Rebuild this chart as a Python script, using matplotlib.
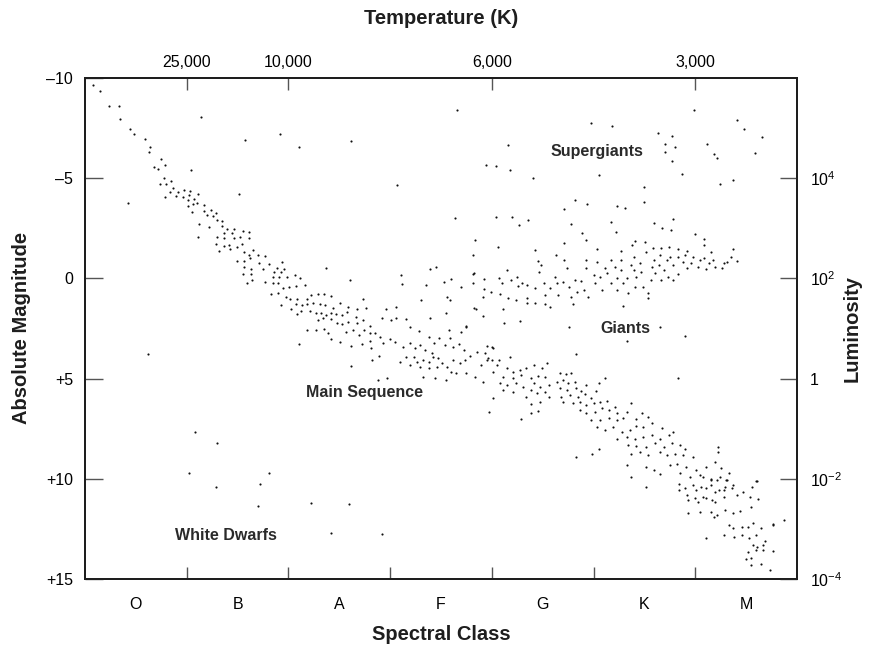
import matplotlib
matplotlib.use("Agg")
import matplotlib.pyplot as plt

plt.rcParams['font.family'] = ['Liberation Sans', 'DejaVu Sans']
plt.rcParams['mathtext.fontset'] = 'custom'
plt.rcParams['mathtext.rm'] = 'Liberation Sans'
plt.rcParams['mathtext.it'] = 'Liberation Sans'

# spectral class position (O centred at 0.5, boundaries at 1..6) and absolute magnitude
main_seq = [
    (0.08, -9.65), (0.15, -9.35), (0.24, -8.6), (0.33, -8.6), (0.34, -7.95), (0.44, -7.45), (0.48, -7.2),
    (0.59, -6.97), (0.64, -6.55), (0.63, -6.3), (0.75, -5.96), (0.68, -5.57), (0.72, -5.44), (0.79, -5.64),
    (0.78, -5.03), (0.85, -4.88), (0.74, -4.70), (0.80, -4.71), (0.87, -4.51), (0.84, -4.33), (0.91, -4.33),
    (0.97, -4.40), (1.03, -4.36), (0.79, -4.06), (0.89, -4.10), (0.96, -4.08), (1.02, -4.15), (1.11, -4.21),
    (1.01, -3.91), (1.07, -3.95), (1.01, -3.63), (1.06, -3.70), (1.10, -3.76), (1.05, -3.30), (1.17, -3.65),
    (1.17, -3.36), (1.24, -3.40), (1.20, -3.18), (1.29, -3.28), (1.26, -3.13), (1.12, -2.73), (1.22, -2.58),
    (1.35, -2.88), (1.35, -2.63), (1.30, -2.91), (1.40, -2.48), (1.46, -2.46), (1.37, -2.28), (1.45, -2.25),
    (1.55, -2.37), (1.61, -2.30), (1.11, -2.08), (1.30, -2.08), (1.37, -2.0), (1.46, -2.02), (1.52, -2.05),
    (1.61, -2.03), (1.29, -1.70), (1.37, -1.62), (1.42, -1.67), (1.49, -1.55), (1.54, -1.70), (1.32, -1.38),
    (1.43, -1.45), (1.56, -1.34), (1.65, -1.42), (1.61, -1.15), (1.70, -1.19), (1.77, -1.14), (1.49, -0.87),
    (1.56, -0.87), (1.62, -1.0), (1.71, -0.78), (1.56, -0.59), (1.63, -0.47), (1.55, -0.22), (1.63, -0.22),
    (1.59, 0.23), (1.64, 0.10), (1.75, -0.48), (1.81, -0.70), (1.89, -0.53), (1.94, -0.80), (1.96, -0.47),
    (1.86, -0.30), (1.93, -0.32), (1.85, -0.09), (1.91, -0.07), (1.99, -0.09), (2.06, -0.16), (2.11, 0.0),
    (1.77, 0.18), (1.85, 0.21), (1.90, 0.21), (1.95, 0.46), (2.01, 0.43), (2.07, 0.36), (2.16, 0.35),
    (1.83, 0.79), (1.90, 0.74), (1.98, 0.91), (1.93, 1.33), (2.02, 1.01), (2.08, 1.01), (2.18, 1.01),
    (2.22, 0.81), (2.29, 0.76), (2.35, 0.78), (2.42, 0.86), (2.07, 1.26), (2.13, 1.33), (2.18, 1.29),
    (2.24, 1.24), (2.31, 1.29), (2.36, 1.34), (2.44, 1.46), (2.51, 1.24), (2.59, 1.41), (2.67, 1.53),
    (2.76, 1.46), (2.73, 1.01), (2.03, 1.51), (2.08, 1.76), (2.12, 1.64), (2.21, 1.61), (2.27, 1.74),
    (2.32, 1.71), (2.37, 1.84), (2.42, 1.74), (2.47, 1.78), (2.53, 1.84), (2.58, 1.69), (2.66, 1.91),
    (2.29, 2.08), (2.34, 1.99), (2.42, 2.04), (2.48, 2.24), (2.53, 2.26), (2.59, 2.19), (2.67, 2.24),
    (2.73, 2.08), (2.80, 2.36), (2.92, 1.99), (2.96, 1.54), (3.06, 1.98), (2.18, 2.57), (2.27, 2.57),
    (2.35, 2.51), (2.39, 2.71), (2.42, 3.01), (2.51, 3.16), (2.57, 2.66), (2.63, 2.57), (2.69, 2.82),
    (2.74, 2.57), (2.80, 2.71), (2.85, 2.74), (2.90, 2.91), (2.80, 3.11), (2.93, 3.21), (3.00, 3.04),
    (3.05, 3.16), (2.62, 3.36), (2.72, 3.29), (2.81, 3.49), (3.06, 1.41), (3.01, 2.08), (3.16, 2.03),
    (3.20, 2.44), (3.28, 2.63), (3.38, 2.94), (3.58, 2.57), (3.59, 2.99), (3.48, 2.99), (3.43, 3.24),
    (3.54, 3.32), (3.62, 3.41), (3.68, 3.29), (3.73, 3.57), (3.79, 3.87), (3.85, 3.66), (3.93, 3.71),
    (3.89, 4.32), (3.95, 4.07), (3.83, 4.90), (3.91, 5.15), (4.0, 3.41), (4.0, 4.07), (3.13, 3.41),
    (3.20, 3.24), (3.24, 3.49), (3.29, 3.32), (3.34, 3.57), (3.41, 3.74), (3.16, 3.91), (3.23, 3.91),
    (3.26, 4.16), (3.32, 4.07), (3.38, 4.16), (3.42, 3.91), (3.47, 3.99), (3.51, 4.24), (3.56, 4.41),
    (3.46, 4.41), (3.38, 4.49), (3.29, 4.41), (3.20, 4.32), (3.10, 4.16), (3.32, 4.90), (3.44, 4.99),
    (3.55, 5.07), (3.60, 4.65), (3.65, 4.74), (3.75, 4.74), (3.62, 4.07), (3.69, 4.24), (3.74, 4.07),
    (2.88, 5.07), (2.97, 4.99), (2.82, 4.07), (2.89, 3.87), (2.62, 4.36), (3.70, 2.66), (3.75, 2.41),
    (3.96, 3.95), (4.07, 4.07), (4.18, 3.94), (4.01, 4.65), (4.05, 4.32), (4.15, 4.49), (4.21, 4.65),
    (4.28, 4.57), (4.34, 4.49), (4.41, 4.32), (4.49, 4.49), (4.54, 4.24), (4.11, 4.90), (4.21, 4.99),
    (4.29, 4.82), (4.38, 4.99), (4.45, 4.87), (4.52, 4.90), (4.08, 5.24), (4.15, 5.32), (4.24, 5.24),
    (4.31, 5.41), (4.41, 5.24), (4.47, 5.41), (4.56, 5.32), (4.11, 5.57), (4.21, 5.66), (4.38, 5.57),
    (4.44, 5.74), (4.52, 5.66), (4.34, 5.91), (4.47, 6.16), (4.56, 5.91), (4.38, 6.27), (4.01, 5.98),
    (3.97, 6.66), (4.29, 7.03), (4.38, 6.73), (4.45, 6.62), (4.67, 4.74), (4.73, 4.79), (4.78, 4.74),
    (4.64, 5.15), (4.70, 5.07), (4.75, 5.24), (4.82, 5.15), (4.67, 5.49), (4.74, 5.57), (4.83, 5.49),
    (4.88, 5.62), (4.93, 5.32), (4.68, 5.91), (4.77, 5.82), (4.85, 5.91), (4.92, 5.77), (4.97, 5.98),
    (5.02, 5.62), (5.05, 5.24), (4.70, 6.16), (4.80, 6.24), (4.87, 6.16), (4.93, 6.32), (5.0, 6.24),
    (5.06, 6.16), (5.13, 6.11), (4.87, 6.57), (4.93, 6.74), (5.01, 6.66), (5.08, 6.49), (5.15, 6.57),
    (5.21, 6.41), (5.23, 6.74), (5.33, 6.66), (5.37, 6.24), (5.48, 6.70), (4.97, 7.06), (5.06, 7.06),
    (5.15, 6.99), (5.23, 7.06), (5.29, 6.99), (5.42, 7.03), (5.54, 6.91), (5.03, 7.40), (5.11, 7.56),
    (5.19, 7.40), (5.28, 7.65), (5.36, 7.56), (5.42, 7.36), (5.49, 7.40), (5.57, 7.23), (5.67, 7.48),
    (5.23, 7.99), (5.33, 7.91), (5.41, 7.99), (5.49, 7.91), (5.57, 7.82), (5.65, 7.99), (5.74, 7.82),
    (5.78, 7.65), (5.34, 8.32), (5.42, 8.36), (5.52, 8.40), (5.60, 8.23), (5.69, 8.40), (5.77, 8.23),
    (5.85, 8.32), (5.90, 8.49), (5.37, 8.74), (5.46, 8.65), (5.54, 8.82), (5.65, 8.65), (5.72, 8.82),
    (5.80, 8.74), (5.88, 8.82), (5.98, 8.91), (5.33, 9.29), (5.52, 9.41), (5.59, 9.57), (5.65, 9.77),
    (5.75, 9.32), (5.82, 9.24), (5.91, 9.41), (6.01, 9.57), (6.11, 9.41), (6.22, 8.40), (6.22, 8.65),
    (5.85, 9.72), (5.95, 9.89), (6.05, 9.81), (6.15, 9.99), (6.24, 9.89), (6.30, 10.06), (5.52, 10.39),
    (5.84, 10.26), (5.90, 10.47), (5.98, 10.31), (6.06, 10.39), (6.15, 10.31), (6.23, 10.56), (6.29, 10.39),
    (5.93, 11.06), (6.03, 11.14), (6.11, 10.97), (6.19, 11.14), (6.28, 10.89), (5.93, 11.72), (6.05, 11.67),
    (6.15, 11.64), (6.21, 11.81), (4.83, 8.89), (5.05, 8.53), (4.98, 8.74), (3.95, 3.38), (4.01, 3.49),
    (4.83, 3.78), (5.11, 4.99), (5.83, 4.99), (6.18, 11.89), (6.29, 11.56), (6.37, 11.72), (6.44, 11.59),
    (6.55, 11.39), (6.62, 11.02), (6.61, 10.09), (6.56, 10.42), (6.47, 10.67), (6.54, 10.89), (6.33, 12.30),
    (6.37, 12.47), (6.46, 12.39), (6.52, 12.39), (6.57, 12.19), (6.65, 12.47), (6.76, 12.30), (6.87, 12.06),
    (6.28, 12.80), (6.38, 12.89), (6.46, 12.80), (6.53, 12.97), (6.60, 12.80), (6.11, 12.94), (6.57, 13.32),
    (6.61, 13.41), (6.67, 13.32), (6.69, 13.12), (6.52, 13.66), (6.60, 13.57), (6.67, 13.57), (6.76, 13.61),
    (6.50, 13.99), (6.55, 13.94), (6.65, 14.24), (6.55, 14.32), (6.73, 14.57), (5.84, 10.56), (5.92, 10.81),
    (6.0, 10.97), (6.08, 10.92), (6.16, 11.06), (6.01, 10.56), (6.11, 10.47), (6.19, 10.64), (6.28, 10.56),
    (6.36, 10.47), (6.41, 10.81), (6.21, 10.06), (6.15, 10.06), (6.31, 10.06), (6.37, 10.31), (6.19, 9.14),
    (6.25, 9.48), (6.33, 9.73), (6.08, 9.91), (6.60, 10.11), (6.76, 12.27), (5.37, 9.92),
]

giants = [
    (3.60, 0.04), (3.70, 0.44), (3.81, -0.24), (3.92, 0.03), (3.92, 0.55), (3.91, 0.95), (3.99, 0.66),
    (4.07, -0.04), (4.10, 0.24), (4.08, 0.78), (4.15, -0.42), (4.19, 0.08), (4.16, 0.99), (4.25, -0.06),
    (4.26, 0.38), (4.30, 0.24), (4.24, 1.08), (4.35, 0.33), (4.35, 0.99), (4.35, 1.24), (4.42, 0.49),
    (4.42, 1.24), (4.46, -0.34), (4.45, -0.87), (4.48, -0.67), (4.51, 0.24), (4.52, 0.83), (4.52, 1.28),
    (4.57, 0.49), (4.57, 1.41), (4.62, -0.09), (4.64, 0.21), (4.65, 0.83), (4.70, 0.16), (4.71, -0.92),
    (4.74, -0.50), (4.76, 0.41), (4.78, 0.94), (4.80, 1.28), (4.82, 0.08), (4.84, 0.66), (4.88, 0.12),
    (4.91, 0.58), (4.93, -0.92), (4.93, -0.50), (4.95, 0.91), (5.0, -0.17), (5.01, 0.24), (5.03, -0.84),
    (5.06, -0.09), (5.08, 0.58), (5.11, -0.50), (5.13, -0.26), (5.17, -0.92), (5.17, 0.24), (5.21, -0.59),
    (5.23, 0.0), (5.23, 0.58), (5.27, -0.92), (5.27, -0.42), (5.29, 0.24), (5.29, 1.37), (5.33, 0.0),
    (5.34, 0.74), (5.37, -0.67), (5.40, -1.09), (5.40, -0.42), (5.41, 0.41), (5.42, -0.09), (5.46, -0.76),
    (5.47, -0.34), (5.49, 0.45), (5.52, -1.34), (5.54, 0.74), (5.54, 0.99), (5.56, 0.08), (5.57, -0.59),
    (5.59, -0.92), (5.60, -0.26), (5.64, -0.67), (5.65, -1.17), (5.66, 0.08), (5.69, -0.42), (5.72, -0.92),
    (5.73, -0.09), (5.75, -1.09), (5.78, -0.67), (5.78, 0.08), (5.83, -1.09), (5.83, -0.20), (5.88, -0.84),
    (5.90, -1.17), (5.92, -0.50), (5.96, -0.76), (5.98, -1.09), (6.03, -0.59), (6.05, -0.92), (6.09, -1.01),
    (6.11, -0.46), (6.13, -0.76), (6.17, -0.92), (6.19, -0.59), (6.26, -0.50), (6.28, -0.76), (6.31, -0.84),
    (6.35, -1.09), (6.41, -0.88), (6.09, -1.95), (6.09, -1.67), (6.15, -1.33), (6.37, -1.47), (5.41, -1.88),
    (5.38, -1.67), (5.51, -1.80), (5.58, -1.50), (5.66, -1.53), (5.74, -1.58), (5.83, -1.47), (5.92, -1.37),
    (5.27, -1.37), (5.03, -1.45), (4.63, -1.15), (4.71, -1.75), (4.42, -1.42), (4.06, -1.58), (3.83, -1.92),
    (3.81, -1.17), (6.0, -2.20), (5.76, -2.43), (5.67, -2.50), (5.59, -2.75), (5.78, -2.95), (5.22, -2.33),
    (5.17, -2.81), (4.93, -1.92), (4.89, -2.28), (4.78, -2.70), (4.27, -2.65), (3.56, 0.91), (3.59, 1.08),
    (3.82, 1.49), (3.91, 1.86), (4.11, 1.54), (4.12, 2.24), (4.28, 2.13), (4.76, 2.41), (3.75, 2.36),
    (5.33, 3.11), (5.65, 2.44), (5.90, 2.87), (3.53, 0.19), (3.11, -0.17), (3.12, 0.28), (3.39, -0.47),
    (3.45, -0.59), (3.35, 0.33), (3.81, 0.24), (3.82, -0.26), (3.30, 1.08), (3.84, 1.54), (3.55, 1.74),
    (3.39, 1.96),
]

supergiants = [
    (3.64, -3.03), (4.04, -3.08), (4.20, -3.08), (4.36, -2.91), (4.71, -3.45), (4.82, -3.91), (4.94, -3.73),
    (5.23, -3.63), (5.31, -3.53), (5.50, -4.55), (5.50, -3.81), (6.24, -4.71), (6.37, -4.93), (5.99, -8.40),
    (5.18, -7.62), (6.41, -7.89), (6.48, -7.44), (6.66, -7.07), (5.63, -7.27), (5.77, -7.10), (5.70, -6.71),
    (5.80, -6.58), (5.70, -6.33), (5.77, -5.84), (6.12, -6.72), (6.18, -6.22), (6.21, -6.02), (6.59, -6.28),
    (5.87, -5.21), (4.97, -7.74), (5.05, -5.18), (4.16, -6.68), (3.94, -5.64), (4.04, -5.63), (4.18, -5.41),
    (4.40, -5.01), (3.66, -8.39), (3.07, -4.68), (2.62, -6.85), (2.10, -6.55), (1.92, -7.2), (1.57, -6.9),
    (1.14, -8.07),
]

# stray stars between the groups
field = [
    (1.51, -4.2), (1.04, -5.43), (0.42, -3.75), (2.37, -0.50), (2.61, 0.08), (0.62, 3.79),
    (1.08, 7.65), (1.30, 8.23), (2.10, 3.29),
]
white_dwarfs = [
    (1.02, 9.69), (1.29, 10.42), (1.81, 9.73), (1.72, 10.26), (1.70, 11.36), (2.22, 11.19), (2.60, 11.24),
    (2.42, 12.70), (2.92, 12.77),
]

spectral_classes = ['O', 'B', 'A', 'F', 'G', 'K', 'M']
temp_ticks = [1, 2, 4, 6]
temp_labels = ['25,000', '10,000', '6,000', '3,000']
mag_ticks = [-10, -5, 0, 5, 10, 15]
mag_labels = ['\u201310', '\u20135', '0', '+5', '+10', '+15']
lum_ticks = [-5, 0, 5, 10, 15]
lum_labels = [r'$10^{4}$', r'$10^{2}$', '1', r'$10^{-2}$', r'$10^{-4}$']

region_labels = ['Supergiants', 'Giants', 'Main Sequence', 'White Dwarfs']
region_pos = [(5.03, -6.35), (5.31, 2.48), (2.75, 5.67), (1.39, 12.85)]

ink = '#1e1e1e'
tick_col = '#555555'

fig = plt.figure(figsize=(8.69, 6.5), dpi=100)
ax = fig.add_axes([85 / 869, 1 - 579 / 650, 712 / 869, 501 / 650])

for group in (main_seq, giants, supergiants, field, white_dwarfs):
    xs = [p[0] for p in group]
    ms = [p[1] for p in group]
    ax.scatter(xs, ms, s=2.4, color='#111111', linewidths=0)

for txt, (x, y) in zip(region_labels, region_pos):
    ax.text(x, y, txt, fontsize=11.5, fontweight='bold', color='#2a2a2a',
            ha='center', va='center')

ax.set_xlim(0, 7)
ax.set_ylim(15, -10)

# bottom: tick marks on class boundaries, letters in between
ax.set_xticks(range(1, 7))
ax.set_xticklabels([])
ax.set_xticks([i + 0.5 for i in range(7)], minor=True)
ax.set_xticklabels(spectral_classes, minor=True, fontsize=11.5)
ax.tick_params(axis='x', which='major', direction='in', length=8.5, width=1, color=tick_col)
ax.tick_params(axis='x', which='minor', length=0, pad=13)

ax.set_yticks(mag_ticks)
ax.set_yticklabels(mag_labels, fontsize=11.5)
ax.tick_params(axis='y', direction='in', length=13, width=1, color=tick_col, pad=8.5)

ax_top = ax.twiny()
ax_top.set_xlim(ax.get_xlim())
ax_top.set_xticks(temp_ticks)
ax_top.set_xticklabels(temp_labels, fontsize=11.5)
ax_top.tick_params(axis='x', direction='in', length=8.5, width=1, color=tick_col, pad=6)

ax_right = ax.twinx()
ax_right.set_ylim(ax.get_ylim())
ax_right.set_yticks(lum_ticks)
ax_right.set_yticklabels(lum_labels, fontsize=11.5)
ax_right.tick_params(axis='y', direction='in', length=12, width=1, color=tick_col, pad=9.5)

for a in (ax, ax_top, ax_right):
    for sp in a.spines.values():
        sp.set_linewidth(1.3)
        sp.set_color(ink)

fig.text(441 / 869, 1 - 18 / 650, 'Temperature (K)', fontsize=14.5, fontweight='bold',
         ha='center', va='center', color=ink)
fig.text(441 / 869, 1 - 634 / 650, 'Spectral Class', fontsize=14.5, fontweight='bold',
         ha='center', va='center', color=ink)
fig.text(22 / 869, 1 - 328 / 650, 'Absolute Magnitude', fontsize=14.5, fontweight='bold',
         ha='center', va='center', rotation=90, color=ink)
fig.text(852 / 869, 1 - 328 / 650, 'Luminosity', fontsize=14.5, fontweight='bold',
         ha='center', va='center', rotation=90, color=ink)

fig.savefig('out.png', dpi=100)
